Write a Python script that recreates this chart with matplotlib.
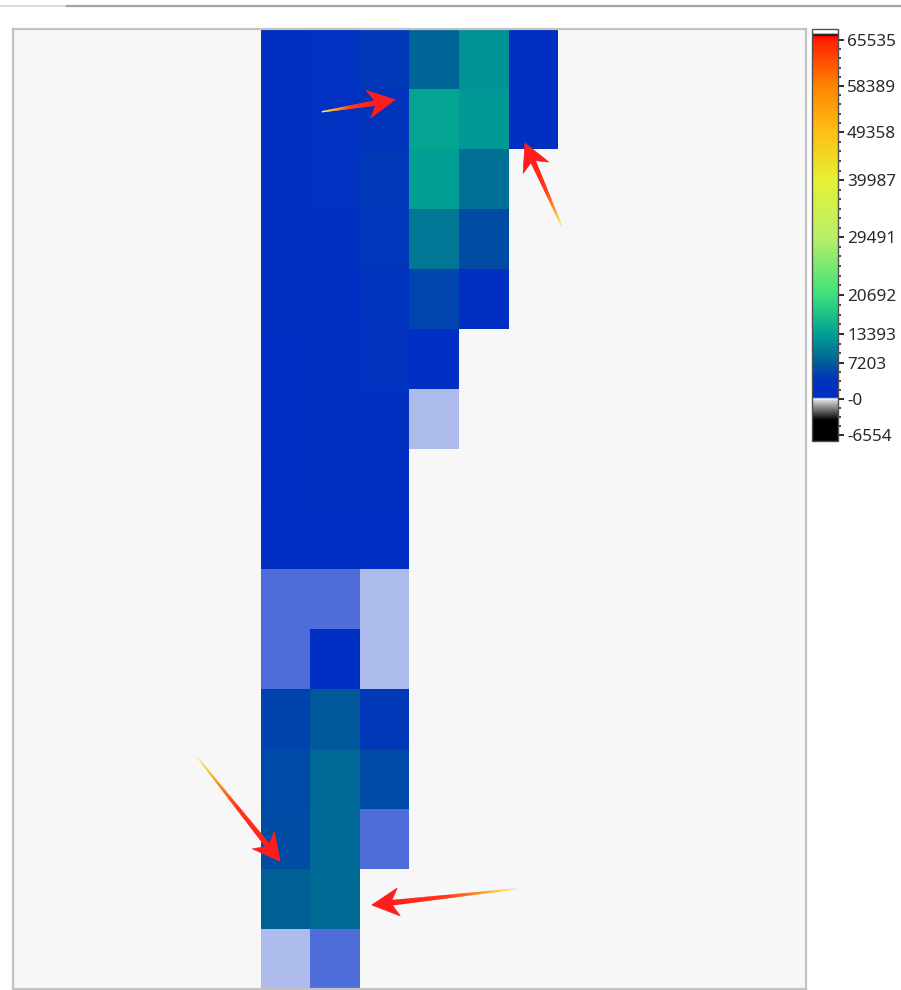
import numpy as np
import matplotlib
matplotlib.use("Agg")
import matplotlib.pyplot as plt
from matplotlib.colors import LinearSegmentedColormap, FuncNorm
from matplotlib.cm import ScalarMappable
from matplotlib.patches import Polygon
from matplotlib.lines import Line2D

# ---------------------------------------------------------------- data
n_cols = 16
n_rows = 16
first_col = 5

# one list per grid row, starting at column `first_col`
row_values = [
    [2100, 2600, 4300, 7900, 12100, 1900],
    [2000, 2500, 4100, 13900, 12600, 1800],
    [2200, 2700, 4400, 13300, 9000],
    [1900, 2400, 4200, 9700, 5900],
    [1700, 2300, 3600, 5300, 1800],
    [1600, 2100, 2900, 1500],
    [1500, 2000, 2400, 115],
    [1400, 1900, 1700],
    [1500, 1600, 1400],
    [245, 245, 115],
    [245, 1500, 115],
    [5150, 6900, 4300],
    [5760, 8300, 5800],
    [5900, 8400, 245],
    [7550, 8500],
    [115, 245],
]

# colour-scale ticks
tick_values = [65535, 58389, 49358, 39987, 29491, 20692, 13393, 7203, 0, -6554]
tick_labels = ["65535", "58389", "49358", "39987", "29491", "20692",
               "13393", "7203", "-0", "-6554"]

# piecewise scale: value -> position along the colour bar
scale_values = [-7650, -6554, 0, 7203, 13393, 20692, 29491, 39987, 49358, 58389, 65535, 67273]
scale_fracs = [0.0, 0.0146, 0.102, 0.189, 0.260, 0.354, 0.495, 0.633, 0.750, 0.862, 0.973, 1.0]

# colour stops (value, colour)
colour_stops = [
    (-7650, "#000000"), (-3800, "#000000"), (-300, "#d4d4d4"), (0, "#ffffff"),
    (350, "#002cc6"), (4000, "#0034bc"), (7203, "#005c96"), (13393, "#00a094"),
    (20692, "#3ce07c"), (29491, "#b8f068"), (39987, "#e6f034"), (49358, "#ffbe14"),
    (58389, "#ff8400"), (65535, "#ff2000"), (66100, "#ff0000"), (66250, "#202020"),
    (66450, "#303030"), (66650, "#ffffff"), (67273, "#ffffff"),
]

# callout arrows: (tail, tip) in grid units (column, row)
callouts = [
    ((6.23, 1.38), (7.71, 1.18)),
    ((11.08, 3.30), (10.33, 1.90)),
    ((3.71, 12.13), (5.39, 13.87)),
    ((10.17, 14.33), (7.24, 14.60)),
]

# ---------------------------------------------------------------- scale
def fwd(v):
    return np.interp(v, scale_values, scale_fracs)


def inv(f):
    return np.interp(f, scale_fracs, scale_values)


norm = FuncNorm((fwd, inv), vmin=scale_values[0], vmax=scale_values[-1])
cmap = LinearSegmentedColormap.from_list(
    "intensity", [(float(fwd(v)), c) for v, c in colour_stops], N=16384)
cmap.set_bad((0, 0, 0, 0))

grid = np.full((n_rows, n_cols), np.nan)
for r, vals in enumerate(row_values):
    for k, v in enumerate(vals):
        grid[r, first_col + k] = v
grid = np.ma.masked_invalid(grid)

# ---------------------------------------------------------------- figure
W, H = 901, 990
fig = plt.figure(figsize=(W / 100, H / 100), dpi=100, facecolor="white")
plt.rcParams["font.family"] = ["Noto Sans", "DejaVu Sans"]

ax = fig.add_axes([13 / W, 1 / H, 793 / W, 960 / H])
ax.set_facecolor("#f7f7f7")
ax.pcolormesh(np.arange(n_cols + 1), np.arange(n_rows + 1), grid,
              cmap=cmap, norm=norm, edgecolors="none", antialiased=False)
ax.set_xlim(0, n_cols)
ax.set_ylim(n_rows, 0)
ax.set_xticks([])
ax.set_yticks([])
for s in ax.spines.values():
    s.set_color("#c2c2c2")
    s.set_linewidth(1.6)

# window rule across the top
fig.add_artist(Line2D([0, 67 / W], [1 - 5.5 / H] * 2, transform=fig.transFigure,
                      color="#d6d6d6", lw=1.2))
fig.add_artist(Line2D([67 / W, 1], [1 - 5.5 / H] * 2, transform=fig.transFigure,
                      color="#a4a4a4", lw=1.6))

# colour bar
cax = fig.add_axes([812 / W, (H - 441) / H, 26 / W, 412 / H])
cbar = fig.colorbar(ScalarMappable(norm=norm, cmap=cmap), cax=cax)
cbar.set_ticks(tick_values, labels=tick_labels)
fr = fwd(np.array(tick_values[::-1], dtype=float))
minor_fracs = []
for a, b in zip(fr[:-1], fr[1:]):
    n = int(round((b - a) * 412 / 9.5)) - 1
    if n > 0:
        minor_fracs.extend(np.linspace(a, b, n + 2)[1:-1])
cbar.set_ticks(inv(np.array(minor_fracs)), minor=True)
cbar.outline.set_edgecolor("#505050")
cbar.outline.set_linewidth(1.0)
cax.tick_params(which="major", direction="out", length=4, width=1.4,
                colors="#2a2a2a", labelsize=12.3, pad=2.5)
cax.tick_params(which="minor", direction="out", length=2.5, width=1.3, colors="#3a3a3a")

# ---------------------------------------------------------------- callouts
shaft_cmap = LinearSegmentedColormap.from_list(
    "shaft", [(0.0, "#f4ecc0"), (0.1, "#ffd840"), (0.32, "#ff8a20"),
              (0.55, "#ff3a18"), (1.0, "#ff1c1c")])
to_fig = fig.transFigure.inverted()


def gradient_arrow(tail, tip, head_len=27.0, head_half=14.0, notch=8.0,
                   w0=0.6, w1=2.8, n=80):
    T = ax.transData.transform(tail)
    P = ax.transData.transform(tip)
    d = P - T
    u = d / np.hypot(*d)
    nv = np.array([-u[1], u[0]])
    base = P - u * (head_len - notch)
    ts = np.linspace(0, 1, n + 1)
    for a, b in zip(ts[:-1], ts[1:]):
        pa = T + (base - T) * a
        pb = T + (base - T) * b + u * 0.6
        wa = w0 + (w1 - w0) * a
        wb = w0 + (w1 - w0) * b
        quad = np.array([pa + nv * wa, pb + nv * wb, pb - nv * wb, pa - nv * wa])
        fig.add_artist(Polygon(to_fig.transform(quad), closed=True,
                               transform=fig.transFigure,
                               facecolor=shaft_cmap((a + b) / 2),
                               edgecolor="none", zorder=5))
    head = np.array([P, P - u * head_len + nv * head_half, base,
                     P - u * head_len - nv * head_half])
    fig.add_artist(Polygon(to_fig.transform(head), closed=True,
                           transform=fig.transFigure, facecolor="#ff1c1c",
                           edgecolor="#ff1c1c", lw=0.5, zorder=6))


for tail, tip in callouts:
    gradient_arrow(tail, tip)

fig.savefig("out.png", dpi=100, facecolor="white")
